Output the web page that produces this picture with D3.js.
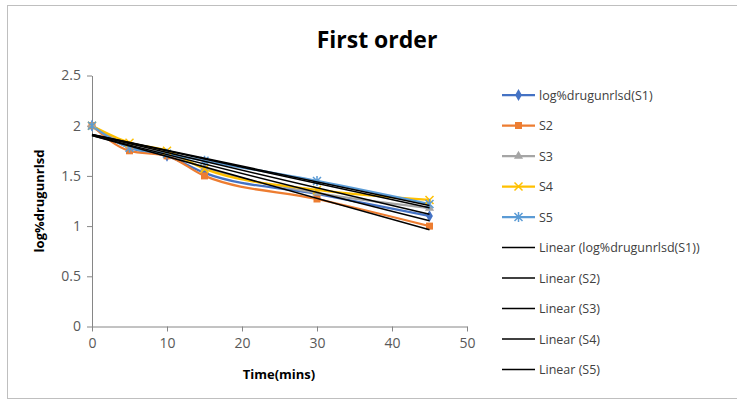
<!DOCTYPE html>
<html><head><meta charset="utf-8">
<script src="https://cdn.jsdelivr.net/npm/d3@7"></script>
<style>body{margin:0;background:#fff;} text{font-family:"Open Sans",sans-serif;}</style>
</head><body>
<svg id="c" width="737" height="406"></svg>
<script>
const times = [0, 5, 10, 15, 30, 45];
const seriesNames = ["log%drugunrlsd(S1)", "S2", "S3", "S4", "S5"];
const s1 = [2.00, 1.78, 1.70, 1.53, 1.32, 1.10];
const s2 = [2.00, 1.75, 1.70, 1.50, 1.27, 1.00];
const s3 = [2.00, 1.80, 1.72, 1.58, 1.33, 1.18];
const s4 = [2.00, 1.83, 1.75, 1.57, 1.36, 1.26];
const s5 = [2.00, 1.78, 1.72, 1.65, 1.45, 1.22];
const xTicks = [0, 10, 20, 30, 40, 50];
const yTicks = [0, 0.5, 1, 1.5, 2, 2.5];
const colors = ["#4472C4", "#ED7D31", "#A5A5A5", "#FFC000", "#5B9BD5"];
const markers = ["diamond", "square", "triangle", "x", "star"];

const allSeries = [s1, s2, s3, s4, s5];
const svg = d3.select("#c");

// chart frame
svg.append("rect").attr("x", 7.5).attr("y", 5.5).attr("width", 740).attr("height", 393)
  .attr("fill", "#fff").attr("stroke", "#bfbfbf").attr("stroke-width", 1);

const x = d3.scaleLinear().domain([0, 50]).range([92, 467]);
const y = d3.scaleLinear().domain([0, 2.5]).range([326.5, 75.5]);

// axes
const xAxis = d3.axisBottom(x).tickValues(xTicks).tickSize(5).tickSizeOuter(0).tickPadding(7);
const yAxis = d3.axisLeft(y).tickValues(yTicks).tickSize(5).tickSizeOuter(0).tickPadding(6).tickFormat(d3.format("~g"));
const gx = svg.append("g").attr("transform", `translate(0,${y(0)})`).call(xAxis);
const gy = svg.append("g").attr("transform", `translate(${x(0)},0)`).call(yAxis);
[gx, gy].forEach(g => {
  g.select(".domain").attr("stroke", "#868686");
  g.selectAll(".tick line").attr("stroke", "#868686");
  g.selectAll(".tick text").attr("fill", "#595959").style("font-size", "14px").style("font-family", "Open Sans");
});

// series lines
const line = d3.line().x((d, i) => x(times[i])).y(d => y(d)).curve(d3.curveMonotoneX);
allSeries.forEach((s, k) => {
  svg.append("path").datum(s).attr("d", line).attr("fill", "none")
    .attr("stroke", colors[k]).attr("stroke-width", 2.25);
});

function drawMarker(g, type, cx, cy, col) {
  if (type === "diamond") {
    g.append("path").attr("d", d3.symbol(d3.symbolDiamond, 40)()).attr("transform", `translate(${cx},${cy})`).attr("fill", col);
  } else if (type === "square") {
    g.append("rect").attr("x", cx - 3.5).attr("y", cy - 3.5).attr("width", 7).attr("height", 7).attr("fill", col);
  } else if (type === "triangle") {
    g.append("path").attr("d", d3.symbol(d3.symbolTriangle, 36)()).attr("transform", `translate(${cx},${cy})`).attr("fill", col);
  } else if (type === "x") {
    g.append("path").attr("d", `M${cx-4},${cy-4}L${cx+4},${cy+4}M${cx-4},${cy+4}L${cx+4},${cy-4}`).attr("stroke", col).attr("stroke-width", 1.5);
  } else if (type === "star") {
    g.append("path").attr("d", `M${cx-4},${cy-4}L${cx+4},${cy+4}M${cx-4},${cy+4}L${cx+4},${cy-4}M${cx},${cy-5}L${cx},${cy+5}`).attr("stroke", col).attr("stroke-width", 1.5);
  }
}

allSeries.forEach((s, k) => {
  const g = svg.append("g");
  s.forEach((v, i) => drawMarker(g, markers[k], x(times[i]), y(v), colors[k]));
});

// linear trend lines
function fit(s) {
  const mx = d3.mean(times), my = d3.mean(s);
  let sxy = 0, sxx = 0;
  times.forEach((t, i) => { sxy += (t - mx) * (s[i] - my); sxx += (t - mx) ** 2; });
  const b = sxy / sxx; return [my - b * mx, b];
}
allSeries.forEach(s => {
  const [a, b] = fit(s);
  svg.append("line").attr("x1", x(0)).attr("y1", y(a)).attr("x2", x(45)).attr("y2", y(a + b * 45))
    .attr("stroke", "#000").attr("stroke-width", 1.5);
});

// title and axis titles
svg.append("text").attr("x", 377).attr("y", 48).attr("text-anchor", "middle")
  .style("font-size", "23px").style("font-weight", "bold").attr("fill", "#000").text("First order");
svg.append("text").attr("x", 279).attr("y", 379).attr("text-anchor", "middle")
  .style("font-size", "13px").style("font-weight", "bold").attr("fill", "#000").text("Time(mins)");
svg.append("text").attr("transform", "translate(44,201) rotate(-90)").attr("text-anchor", "middle")
  .style("font-size", "13px").style("font-weight", "bold").attr("fill", "#000").text("log%drugunrlsd");

// legend
const legendLabels = seriesNames.concat(seriesNames.map(n => `Linear (${n})`));
legendLabels.forEach((lab, i) => {
  const ly = 95 + i * 30.5;
  const g = svg.append("g");
  if (i < 5) {
    g.append("line").attr("x1", 502).attr("x2", 535).attr("y1", ly).attr("y2", ly).attr("stroke", colors[i]).attr("stroke-width", 2.25);
    drawMarker(g, markers[i], 518.5, ly, colors[i]);
  } else {
    g.append("line").attr("x1", 502).attr("x2", 535).attr("y1", ly).attr("y2", ly).attr("stroke", "#000").attr("stroke-width", 1.5);
  }
  g.append("text").attr("x", 539).attr("y", ly + 4.5).style("font-size", "12.5px").attr("fill", "#404040").text(lab);
});
</script>
</body></html>
